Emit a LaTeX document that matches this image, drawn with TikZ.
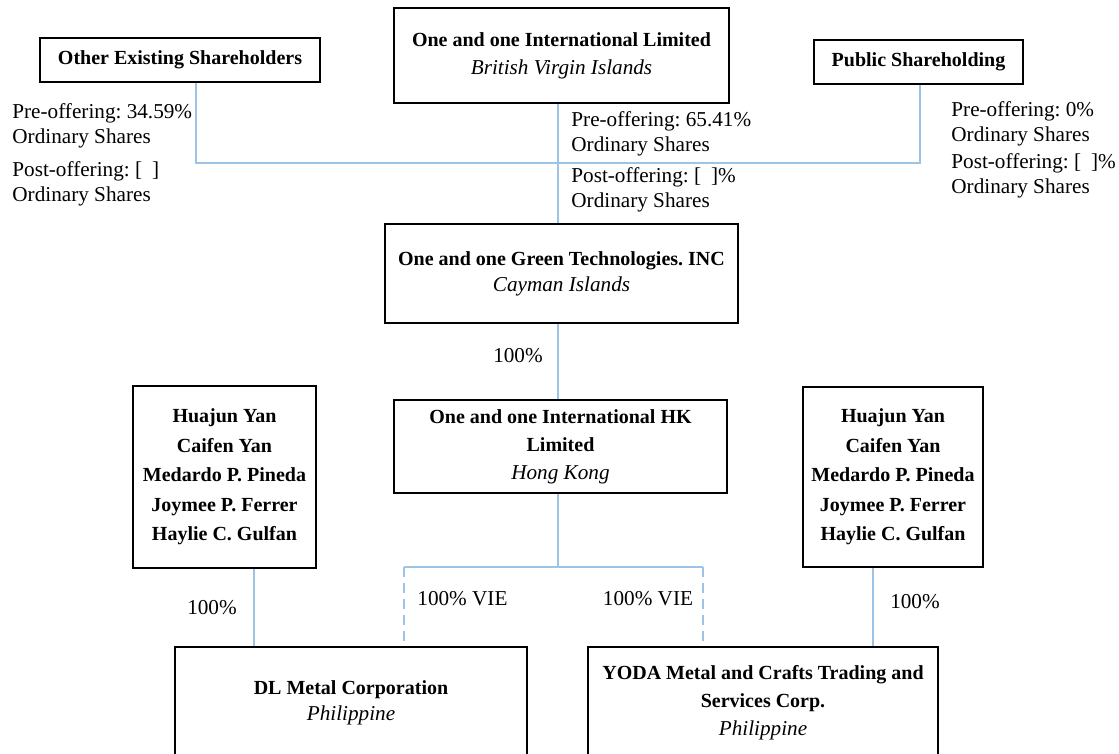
\documentclass[tikz,border=0pt]{standalone}
\usepackage{fontspec}
\setmainfont{Liberation Serif}
\usepackage{xcolor}
\usepackage{tikz}
\usetikzlibrary{arrows, positioning,fit,shapes.misc}
\definecolor{linkblue}{RGB}{157,195,230}
\newcommand{\loc}[1]{{\normalfont\itshape\fontsize{10.6}{14}\selectfont #1}}
\frenchspacing
\tikzset{
entity/.style={draw=black,line width=1pt,inner sep=0pt,align=center,font=\bfseries\fontsize{10}{14}\selectfont},
link/.style={-,line width=1pt,color=linkblue},
vie/.style={link,dash pattern=on 5pt off 3pt},
share/.style={draw=none,anchor=west,align=left,inner sep=0pt,font=\fontsize{10.6}{12.5}\selectfont},
pct/.style={draw=none,inner sep=0pt,font=\fontsize{10.6}{12.5}\selectfont}
}

\begin{document}
\begin{tikzpicture}[x=0.5pt,y=-0.5pt]
\useasboundingbox (0,0) rectangle (1119,754);
\clip (0,0) rectangle (1119,754);
\node[entity,minimum width=140pt,minimum height=22pt] (OES) at (180,60) {Other Existing Shareholders};
\node[entity,minimum width=167.5pt,minimum height=47.5pt] (OOIL) at (561.5,55.5) {One and one International Limited\\\loc{British Virgin Islands}};
\node[entity,minimum width=104.5pt,minimum height=22pt] (Pub) at (918.5,62) {Public Shareholding};
\node[entity,minimum width=176.5pt,minimum height=49.5pt,font=\bfseries\fontsize{10}{13}\selectfont] (Green) at (561.5,273.5) {One and one Green Technologies. INC\\\loc{Cayman Islands}};
\node[entity,minimum width=166.5pt,minimum height=46.5pt] (HK) at (560.5,446.5) {One and one International HK\\Limited\\\loc{Hong Kong}};
\node[entity,minimum width=91.5pt,minimum height=91pt,font=\bfseries\fontsize{10}{14.75}\selectfont] (PersL) at (224.5,477) {Huajun Yan\\Caifen Yan\\Medardo P. Pineda\\Joymee P. Ferrer\\Haylie C. Gulfan};
\node[entity,minimum width=90pt,minimum height=90pt,font=\bfseries\fontsize{10}{14.75}\selectfont] (PersR) at (893,477) {Huajun Yan\\Caifen Yan\\Medardo P. Pineda\\Joymee P. Ferrer\\Haylie C. Gulfan};
\node[entity,minimum width=176pt,minimum height=56pt,font=\bfseries\fontsize{10}{13}\selectfont] (DL) at (351,703) {DL Metal Corporation\\\loc{Philippine}};
\node[entity,minimum width=175pt,minimum height=56pt] (YODA) at (763,703) {YODA Metal and Crafts Trading and\\Services Corp.\\\loc{Philippine}};
% shareholding labels
\node[share] (preL) at (12,125.5) {Pre-offering: 34.59\%\\Ordinary Shares};
\node[share] (postL) at (12,183.5) {Post-offering: [\hspace{5pt}]\\Ordinary Shares};
\node[share] (preM) at (571,133.5) {Pre-offering: 65.41\%\\Ordinary Shares};
\node[share] (postM) at (571,190) {Post-offering: [\hspace{5pt}]\%\\Ordinary Shares};
\node[share] (preR) at (951,123.5) {Pre-offering: 0\%\\Ordinary Shares};
\node[share] (postR) at (951,176) {Post-offering: [\hspace{5pt}]\%\\Ordinary Shares};
\node[pct] (p1) at (518,356) {100\%};
\node[pct] (p2) at (212,608) {100\%};
\node[pct] (p3) at (915,602) {100\%};
\node[pct,anchor=west] (v1) at (417,599) {100\% VIE};
\node[pct] (v2) at (648,599) {100\% VIE};
% connectors
\coordinate (jl) at (196,163);
\coordinate (jr) at (920,163);
\coordinate (jv) at (558,567);
\coordinate (vl) at (404,567);
\coordinate (vr) at (703,567);
\draw[link] (OES.south -| jl)--(jl)--(jr)--(Pub.south -| jr);
\draw[link] (OOIL.south -| jv)--(Green.north -| jv);
\draw[link] (Green.south -| jv)--(HK.north -| jv);
\draw[link] (HK.south -| jv)--(jv);
\draw[link] (vl)--(vr);
\draw[vie] (vl)--(DL.north -| vl);
\draw[vie] (vr)--(YODA.north -| vr);
\draw[link] ([xshift=14.75pt]PersL.south)--([xshift=14.75pt]PersL.south |- DL.north);
\draw[link] ([xshift=-10pt]PersR.south)--([xshift=-10pt]PersR.south |- YODA.north);
\end{tikzpicture}
\end{document}
